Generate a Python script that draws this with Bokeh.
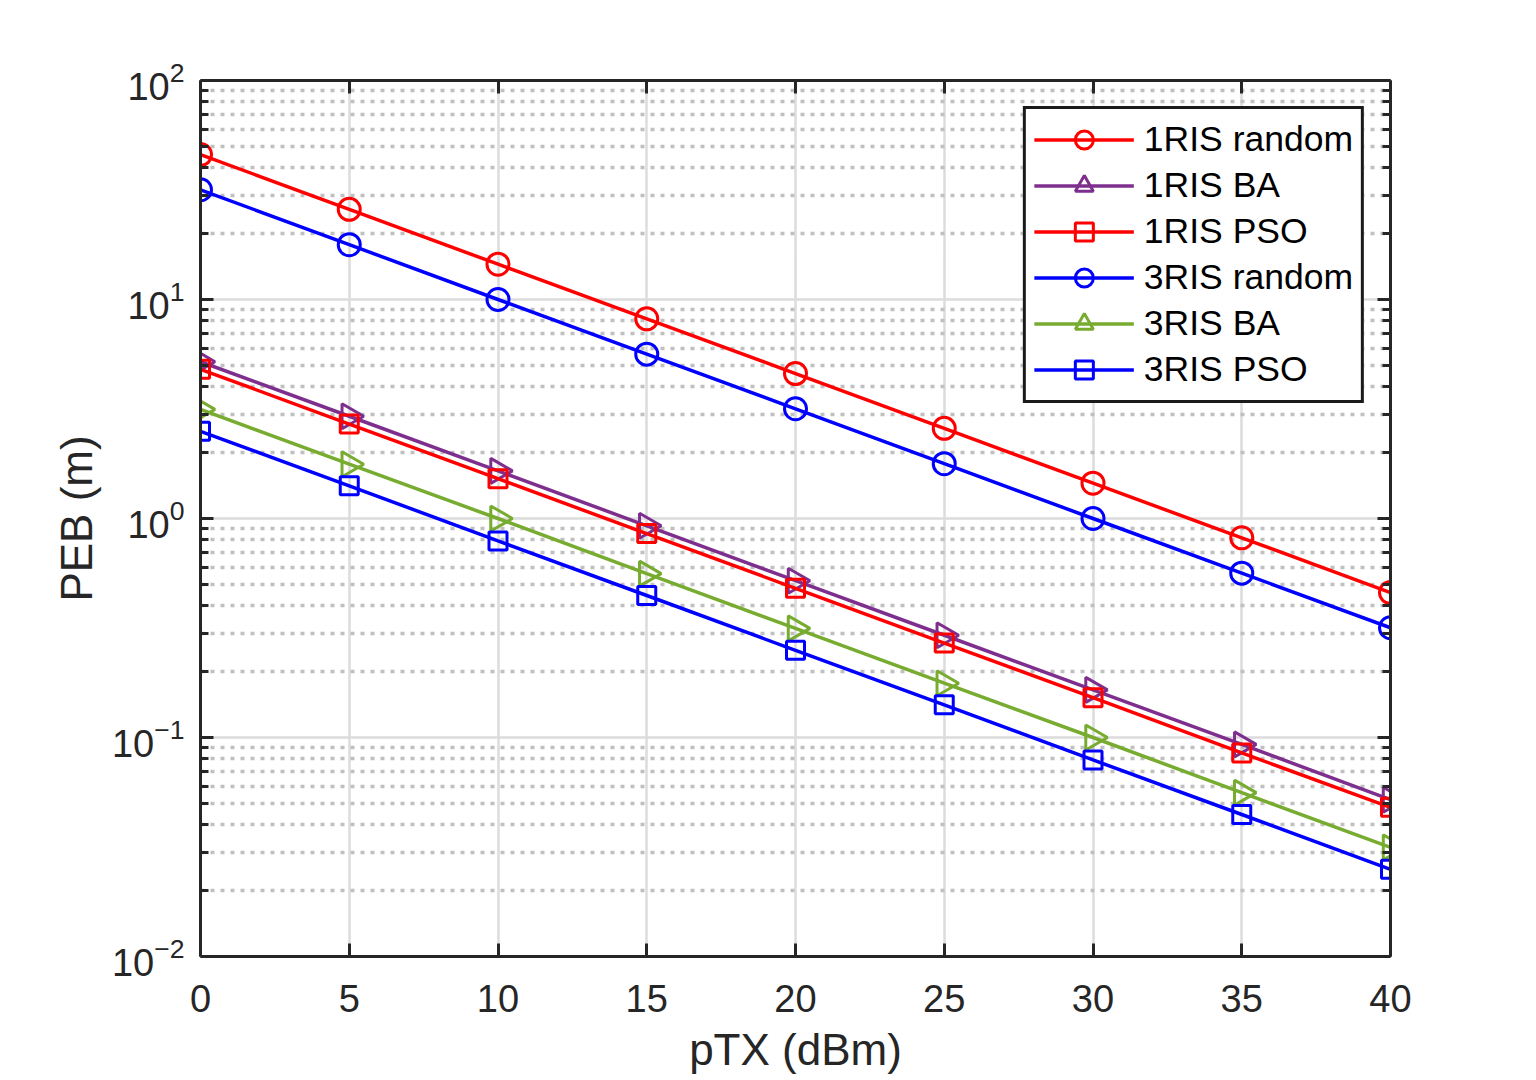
import math
from bokeh.plotting import figure
from bokeh.models import (LinearAxis, LogAxis, FixedTicker, Legend, LegendItem, Range1d)
from bokeh.embed import file_html
from bokeh.resources import INLINE

# ---- data ----
ptx = [0, 5, 10, 15, 20, 25, 30, 35, 40]
ris1_random = [45.9, 25.8, 14.5, 8.16, 4.59, 2.58, 1.45, 0.816, 0.459]
ris1_ba = [5.2, 2.93, 1.65, 0.926, 0.52, 0.293, 0.165, 0.093, 0.052]
ris1_pso = [4.8, 2.7, 1.52, 0.853, 0.48, 0.27, 0.152, 0.085, 0.048]
ris3_random = [31.7, 17.8, 10.0, 5.63, 3.17, 1.78, 1.0, 0.563, 0.317]
ris3_ba = [3.15, 1.77, 1.0, 0.56, 0.315, 0.177, 0.1, 0.056, 0.0315]
ris3_pso = [2.5, 1.41, 0.79, 0.445, 0.25, 0.141, 0.079, 0.0445, 0.025]

series_names = ["1RIS random", "1RIS BA", "1RIS PSO", "3RIS random", "3RIS BA", "3RIS PSO"]
series_values = [ris1_random, ris1_ba, ris1_pso, ris3_random, ris3_ba, ris3_pso]
series_colors = ["#ff0000", "#7e2f8e", "#ff0000", "#0000ff", "#77ac30", "#0000ff"]
series_markers = ["circle", "triangle", "square", "circle", "triangle", "square"]

x_ticks = [0, 5, 10, 15, 20, 25, 30, 35, 40]
y_major = [0.01, 0.1, 1, 10, 100]
y_minor = [k * 10.0 ** e for e in range(-2, 2) for k in range(2, 10)]

FONT = "Liberation Sans"
AX = "#262626"

p = figure(width=1520, height=1078, y_axis_type="log",
           x_range=Range1d(0, 40), y_range=Range1d(0.01, 100),
           output_backend="svg", toolbar_location=None,
           min_border_left=200, min_border_right=130,
           min_border_top=80, min_border_bottom=122)
p.outline_line_color = None
p.background_fill_color = "white"
p.border_fill_color = "white"

yticker = FixedTicker(ticks=y_major, minor_ticks=y_minor)
xticker = FixedTicker(ticks=x_ticks, minor_ticks=[])

xa = p.xaxis[0]
xa.ticker = xticker
xa.axis_label = "pTX (dBm)"
ya = p.yaxis[0]
ya.ticker = yticker
ya.axis_label = "PEB (m)"


def style_axis(ax):
    ax.axis_line_color = AX
    ax.axis_line_width = 3
    ax.major_tick_line_color = AX
    ax.major_tick_line_width = 3
    ax.minor_tick_line_color = AX
    ax.minor_tick_line_width = 3
    ax.major_tick_in = 13
    ax.major_tick_out = 0
    ax.minor_tick_in = 8
    ax.minor_tick_out = 0
    ax.major_label_text_font = FONT
    ax.major_label_text_font_size = "38px"
    ax.major_label_text_color = AX


for ax in (xa, ya):
    style_axis(ax)
    ax.axis_label_text_font = FONT
    ax.axis_label_text_font_size = "44px"
    ax.axis_label_text_font_style = "normal"
    ax.axis_label_text_color = AX
xa.major_label_standoff = 28
xa.axis_label_standoff = 10
ya.major_label_standoff = 16
ya.axis_label_standoff = 8

top = LinearAxis(ticker=xticker)
right = LogAxis(ticker=yticker)
for ax in (top, right):
    style_axis(ax)
    ax.major_label_text_color = None
    ax.major_label_text_alpha = 0
    ax.major_label_standoff = 0
p.add_layout(top, "above")
p.add_layout(right, "right")

p.xgrid.ticker = xticker
p.ygrid.ticker = yticker
p.xgrid.grid_line_color = "#dcdcdc"
p.xgrid.grid_line_width = 2.5
p.ygrid.grid_line_color = "#dcdcdc"
p.ygrid.grid_line_width = 2.5
p.ygrid.minor_grid_line_color = "#c0c0c0"
p.ygrid.minor_grid_line_width = 3.5
p.ygrid.minor_grid_line_dash = "4 6"

items = []
for name, vals, col, mk in zip(series_names, series_values, series_colors, series_markers):
    ln = p.line(ptx, vals, line_color=col, line_width=3.5)
    if mk == "triangle":
        sc = p.scatter(ptx, vals, marker="triangle", size=25, angle=-math.pi / 2,
                       line_color=col, line_width=3, fill_color=None)
    elif mk == "circle":
        sc = p.scatter(ptx, vals, marker="circle", size=22,
                       line_color=col, line_width=3, fill_color=None)
    else:
        sc = p.scatter(ptx, vals, marker="square", size=18,
                       line_color=col, line_width=3, fill_color=None)
    items.append(LegendItem(label=name, renderers=[ln, sc]))

legend = Legend(items=items, location="top_right", margin=26,
                label_text_font=FONT, label_text_font_size="35.5px",
                label_text_color="black",
                glyph_width=100, glyph_height=45, label_height=45,
                label_standoff=10, spacing=1, padding=8,
                border_line_color="#1a1a1a", border_line_width=3.5,
                border_line_alpha=1.0,
                background_fill_color="white", background_fill_alpha=1)
p.add_layout(legend, "center")

open("out.html", "w").write(file_html(p, INLINE))
